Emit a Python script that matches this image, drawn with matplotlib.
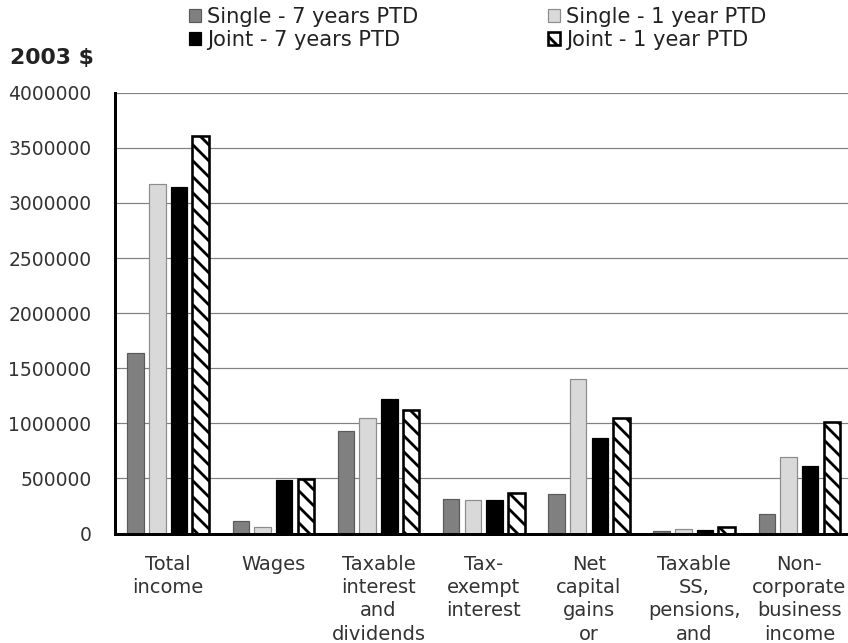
import numpy as np
import matplotlib
matplotlib.use("Agg")
import matplotlib.pyplot as plt

# income components, 2003 dollars
categories = [
    "Total\nincome",
    "Wages",
    "Taxable\ninterest\nand\ndividends",
    "Tax-\nexempt\ninterest",
    "Net\ncapital\ngains\nor",
    "Taxable\nSS,\npensions,\nand",
    "Non-\ncorporate\nbusiness\nincome",
]
single_7yr = [1640000, 115000, 930000, 310000, 355000, 25000, 175000]
single_1yr = [3175000, 55000, 1050000, 300000, 1400000, 38000, 690000]
joint_7yr = [3145000, 485000, 1220000, 300000, 865000, 30000, 610000]
joint_1yr = [3605000, 495000, 1120000, 370000, 1050000, 60000, 1015000]

series_labels = [
    "Single - 7 years PTD",
    "Single - 1 year PTD",
    "Joint - 7 years PTD",
    "Joint - 1 year PTD",
]
y_ticks = np.arange(0, 4000001, 500000)

DPI = 144
W, H = 848, 643
plt.rcParams["font.family"] = ["DejaVu Sans"]
plt.rcParams["hatch.linewidth"] = 1.4
plt.rcParams["hatch.color"] = "black"

fig = plt.figure(figsize=(W / DPI, H / DPI), dpi=DPI)
left, right, top, bottom = 115.5, 852.0, 92.7, 533.5
ax = fig.add_axes([left / W, 1 - bottom / H, (right - left) / W, (bottom - top) / H])

x = np.arange(len(categories))
step = 0.206
width = 0.157

styles = [
    dict(color="#808080", edgecolor="#5a5a5a", linewidth=0.6),
    dict(color="#d9d9d9", edgecolor="#8c8c8c", linewidth=0.6),
    dict(color="#000000", edgecolor="#000000", linewidth=0.6),
    dict(color="white", edgecolor="black", linewidth=1.3, hatch="\\\\\\"),
]
bars = []
for i, (vals, st) in enumerate(zip([single_7yr, single_1yr, joint_7yr, joint_1yr], styles)):
    b = ax.bar(x + (i - 1.5) * step, vals, width, label=series_labels[i], zorder=3, **st)
    bars.append(b)

ax.set_xlim(-0.5, len(categories) - 0.5)
ax.set_ylim(0, 4000000)
ax.set_yticks(y_ticks)
ax.set_yticklabels([str(v) for v in y_ticks])
ax.yaxis.grid(True, color="#808080", linewidth=0.6)
ax.set_axisbelow(True)

ax.set_xticks(x)
ax.set_xticklabels(categories, fontsize=9.7, color="#333333", linespacing=1.3)
ax.tick_params(axis="x", length=0, pad=10.5)
ax.tick_params(axis="y", length=0, pad=12, labelsize=9.4, labelcolor="#333333")

for side in ["top", "right"]:
    ax.spines[side].set_visible(False)
for side in ["left", "bottom"]:
    ax.spines[side].set_linewidth(1.5)
    ax.spines[side].set_color("black")
    ax.spines[side].set_zorder(5)

fig.text(10 / W, 1 - 58 / H, "2003 $", fontsize=11, fontweight="bold",
         color="#222222", va="center", ha="left")

# two single-column legends so each column sits at its own x
leg_kw = dict(loc="upper left", frameon=False, fontsize=10.5, borderpad=0,
              borderaxespad=0, handlelength=0.55, handleheight=0.55,
              handletextpad=0.3, labelspacing=0.15, labelcolor="#222222")
fig.legend([bars[0], bars[2]], [series_labels[0], series_labels[2]],
           bbox_to_anchor=(189 / W, 1 - 7 / H), **leg_kw)
fig.legend([bars[1], bars[3]], [series_labels[1], series_labels[3]],
           bbox_to_anchor=(548 / W, 1 - 7 / H), **leg_kw)

fig.savefig("out.png", dpi=DPI)
